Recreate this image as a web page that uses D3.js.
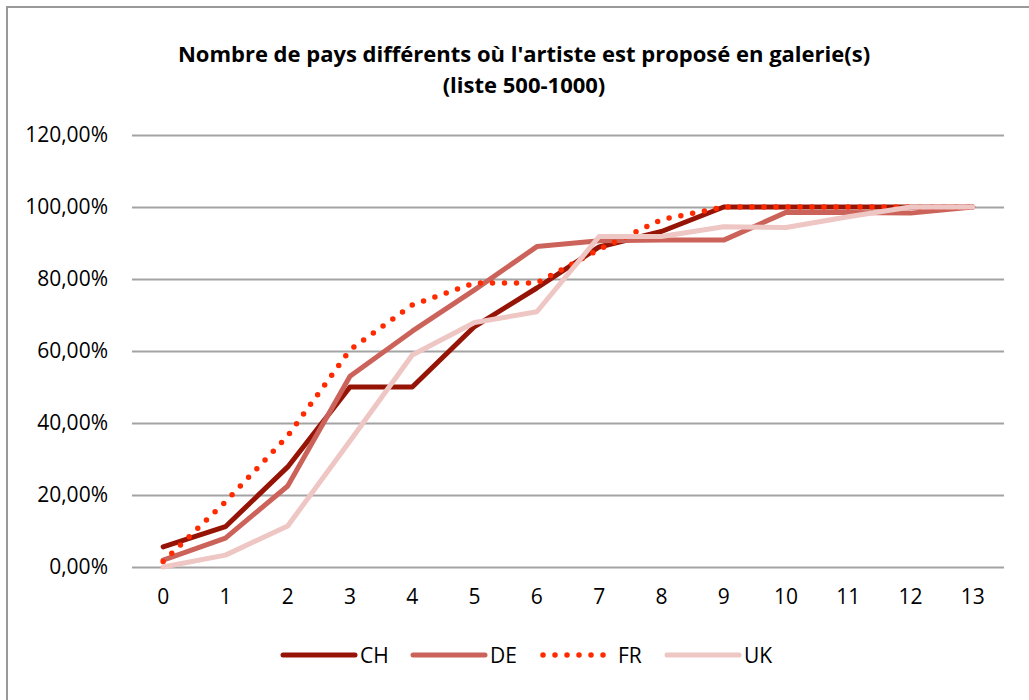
<!DOCTYPE html>
<html>
<head>
<meta charset="utf-8">
<script src="https://d3js.org/d3.v7.min.js"></script>
<style>
  body { margin: 0; background: white; }
  text { font-family: "Open Sans", sans-serif; fill: #000; }
</style>
</head>
<body>
<div id="chart"></div>
<script>
// chart size
const width = 1029;
const height = 700;

// data (share of artists, %)
const categories = [0, 1, 2, 3, 4, 5, 6, 7, 8, 9, 10, 11, 12, 13];
const seriesNames = ["CH", "DE", "FR", "UK"];
const chValues = [5.6, 11.2, 27.8, 50.0, 50.0, 66.8, 77.5, 88.9, 93.2, 100, 100, 100, 100, 100];
const deValues = [1.9, 8.0, 22.5, 53.0, 65.5, 77.0, 89.0, 90.6, 90.8, 90.8, 98.5, 98.5, 98.3, 100];
const frValues = [1.5, 18.1, 36.4, 60.3, 72.8, 78.9, 78.9, 88.2, 96.5, 100, 100, 100, 100, 100];
const ukValues = [0.0, 3.3, 11.4, 35.0, 58.9, 67.9, 70.9, 91.8, 91.8, 94.5, 94.3, 97.3, 100, 100];
const yTicks = [0, 20, 40, 60, 80, 100, 120];

const series = [
  {name: seriesNames[0], values: chValues, color: "#961406", dash: null},
  {name: seriesNames[1], values: deValues, color: "#cc635a", dash: null},
  {name: seriesNames[2], values: frValues, color: "#ff2a00", dash: "0,12"},
  {name: seriesNames[3], values: ukValues, color: "#eec6c3", dash: null}
];

const svg = d3.select("#chart")
  .append("svg")
  .attr("width", width)
  .attr("height", height);

// outer frame (right / bottom edges are off the picture)
svg.append("rect")
  .attr("x", 7)
  .attr("y", 7)
  .attr("width", width + 20)
  .attr("height", height + 20)
  .attr("fill", "white")
  .attr("stroke", "#999")
  .attr("stroke-width", 2);

// title
svg.append("text")
  .attr("x", 524)
  .attr("y", 62)
  .attr("text-anchor", "middle")
  .attr("font-size", "22px")
  .attr("font-weight", "bold")
  .text("Nombre de pays différents où l'artiste est proposé en galerie(s)");
svg.append("text")
  .attr("x", 524)
  .attr("y", 93)
  .attr("text-anchor", "middle")
  .attr("font-size", "22px")
  .attr("font-weight", "bold")
  .text("(liste 500-1000)");

// scales
const x = d3.scaleBand()
  .domain(categories)
  .range([132, 1004]);

const y = d3.scaleLinear()
  .domain([0, 120])
  .range([567, 135]);

const cx = d => x(d) + x.bandwidth() / 2;

// gridlines + y labels
const yAxis = svg.append("g")
  .attr("transform", "translate(1004,0)")
  .call(d3.axisLeft(y)
    .tickValues(yTicks)
    .tickSize(872)
    .tickPadding(24)
    .tickFormat(d => d3.format(".2f")(d).replace(".", ",") + "%"));
yAxis.select(".domain").remove();
yAxis.selectAll("line")
  .attr("stroke", "#a3a3a3")
  .attr("stroke-width", 2);
yAxis.selectAll("text")
  .attr("font-size", "21px")
  .attr("font-family", "Open Sans, sans-serif")
  .attr("fill", "#000");

// x labels
const xAxis = svg.append("g")
  .attr("transform", "translate(0,567)")
  .call(d3.axisBottom(x).tickSize(0).tickPadding(22));
xAxis.select(".domain").remove();
xAxis.selectAll("text")
  .attr("font-size", "21px")
  .attr("font-family", "Open Sans, sans-serif")
  .attr("fill", "#000");

// lines
const line = d3.line()
  .x((d, i) => cx(categories[i]))
  .y(d => y(d));

svg.selectAll(".series")
  .data(series)
  .enter()
  .append("path")
  .attr("class", "series")
  .attr("d", d => line(d.values))
  .attr("fill", "none")
  .attr("stroke", d => d.color)
  .attr("stroke-width", d => d.dash ? 5.5 : 5)
  .attr("stroke-linejoin", "round")
  .attr("stroke-linecap", "round")
  .attr("stroke-dasharray", d => d.dash);

// legend
const legendX = [283, 413, 543, 667];
const legend = svg.append("g");

legend.selectAll("line")
  .data(series)
  .enter()
  .append("line")
  .attr("x1", (d, i) => legendX[i])
  .attr("x2", (d, i) => legendX[i] + (d.dash ? 61 : 72))
  .attr("y1", 655)
  .attr("y2", 655)
  .attr("stroke", d => d.color)
  .attr("stroke-width", d => d.dash ? 5.5 : 5)
  .attr("stroke-linecap", "round")
  .attr("stroke-dasharray", d => d.dash);

legend.selectAll("text")
  .data(series)
  .enter()
  .append("text")
  .attr("x", (d, i) => legendX[i] + (d.dash ? 75 : 77))
  .attr("y", 663)
  .attr("font-size", "21px")
  .text(d => d.name);
</script>
</body>
</html>
